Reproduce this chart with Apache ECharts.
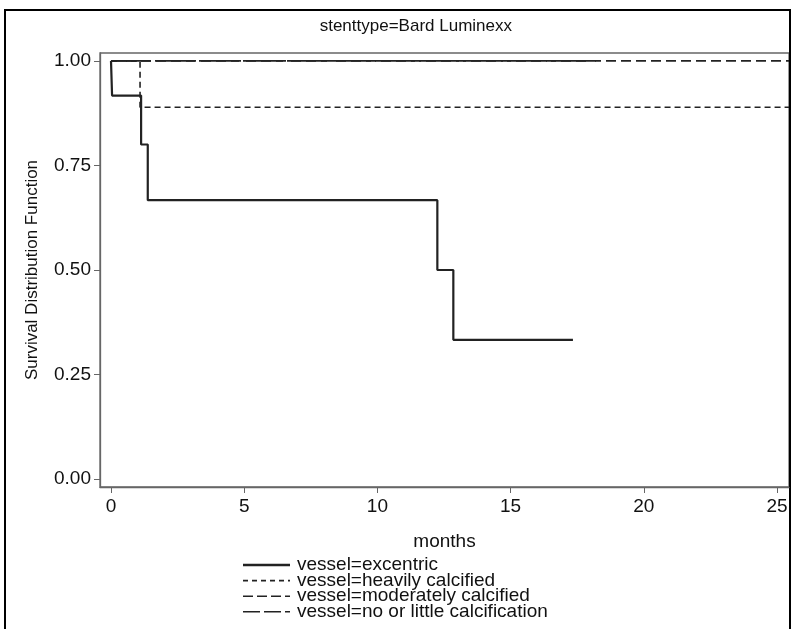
<!DOCTYPE html>
<html>
<head>
    <meta charset="utf-8">
    <title>ECharts</title>
    <script src="https://cdn.jsdelivr.net/npm/echarts@6/dist/echarts.min.js"></script>
    <style>
        body{margin:0;background:#fff;}
    </style>
</head>
<body>
    <div id="km" style="width: 793px;height:629px;"></div>
    <script type="text/javascript">
        // survival steps: [months, survival]
        var excentric = [[0, 1], [0.04, 0.917], [1.13, 0.8], [1.38, 0.667], [12.25, 0.5], [12.85, 0.333], [17.34, 0.333]];
        var heavily = [[0, 1], [1.09, 0.889], [25.45, 0.889]];
        var moderately = [[0, 1], [25.45, 1]];
        var noLittle = [[0, 1], [18.2, 1]];

        var xTicks = [0, 5, 10, 15, 20, 25];
        var yTicks = [0, 0.25, 0.5, 0.75, 1];
        var names = ['vessel=excentric', 'vessel=heavily calcified', 'vessel=moderately calcified', 'vessel=no or little calcification'];

        var font = 'Liberation Sans, Arial, sans-serif';
        var ink = '#222';
        var plotDash = ['solid', [6, 4], [10, 5], [40, 4]];
        var keyDash = [null, [5, 4], [10, 4], [17, 4]];
        var widths = [2.2, 1.6, 1.6, 1.6];

        function kmSeries(i, data) {
            return {
                name: names[i],
                type: 'line',
                step: 'end',
                symbol: 'none',
                data: data,
                lineStyle: {color: ink, width: widths[i], type: plotDash[i]},
                animation: false
            };
        }

        // hand-drawn key, SAS style
        var key = [];
        names.forEach(function (n, i) {
            var y = 565 + i * 15.6;
            key.push({
                type: 'line', silent: true,
                shape: {x1: 243, y1: y, x2: 290, y2: y},
                style: {stroke: ink, lineWidth: i === 0 ? 2.4 : 1.6, lineDash: keyDash[i]}
            });
            key.push({
                type: 'text', silent: true, x: 297, y: y,
                style: {text: n, font: '19px ' + font, fill: '#111', textVerticalAlign: 'middle'}
            });
        });
        // title
        key.push({
            type: 'text', silent: true, x: 512, y: 26,
            style: {text: 'stenttype=Bard Luminexx', font: '17px ' + font, fill: '#111', textAlign: 'right', textVerticalAlign: 'middle'}
        });
        key.push({
            type: 'rect', silent: true,
            shape: {x: 5, y: 10, width: 785, height: 700},
            style: {fill: 'none', stroke: '#000', lineWidth: 2}
        });

        var chart = echarts.init(document.getElementById('km'));
        chart.setOption({
            backgroundColor: '#fff',
            graphic: key,
            grid: {
                left: 100, top: 53, right: 4, bottom: 142,
                show: true, borderColor: '#666', borderWidth: 1.3
            },
            xAxis: {
                type: 'value',
                min: -0.413, max: 25.45,
                name: 'months', nameLocation: 'middle', nameGap: 45,
                nameTextStyle: {fontFamily: font, fontSize: 19, color: '#111'},
                axisLine: {onZero: false, lineStyle: {color: '#666', width: 1.3}},
                axisTick: {show: true, length: 6, customValues: xTicks, lineStyle: {color: '#666'}},
                axisLabel: {customValues: xTicks, fontFamily: font, fontSize: 19, color: '#111', margin: 10},
                splitLine: {show: false}
            },
            yAxis: {
                type: 'value',
                min: -0.0188, max: 1.0188,
                name: 'Survival Distribution Function', nameLocation: 'middle', nameGap: 59, nameRotate: 90,
                nameTextStyle: {fontFamily: font, fontSize: 17, color: '#111'},
                axisLine: {onZero: false, lineStyle: {color: '#666', width: 1.3}},
                axisTick: {show: true, length: 6, customValues: yTicks, lineStyle: {color: '#666'}},
                axisLabel: {
                    customValues: yTicks, fontFamily: font, fontSize: 19, color: '#111', margin: 9,
                    formatter: function (v) { return v.toFixed(2); }
                },
                splitLine: {show: false}
            },
            series: [
                kmSeries(0, excentric),
                kmSeries(1, heavily),
                kmSeries(2, moderately),
                kmSeries(3, noLittle)
            ]
        });
    </script>
</body>
</html>
